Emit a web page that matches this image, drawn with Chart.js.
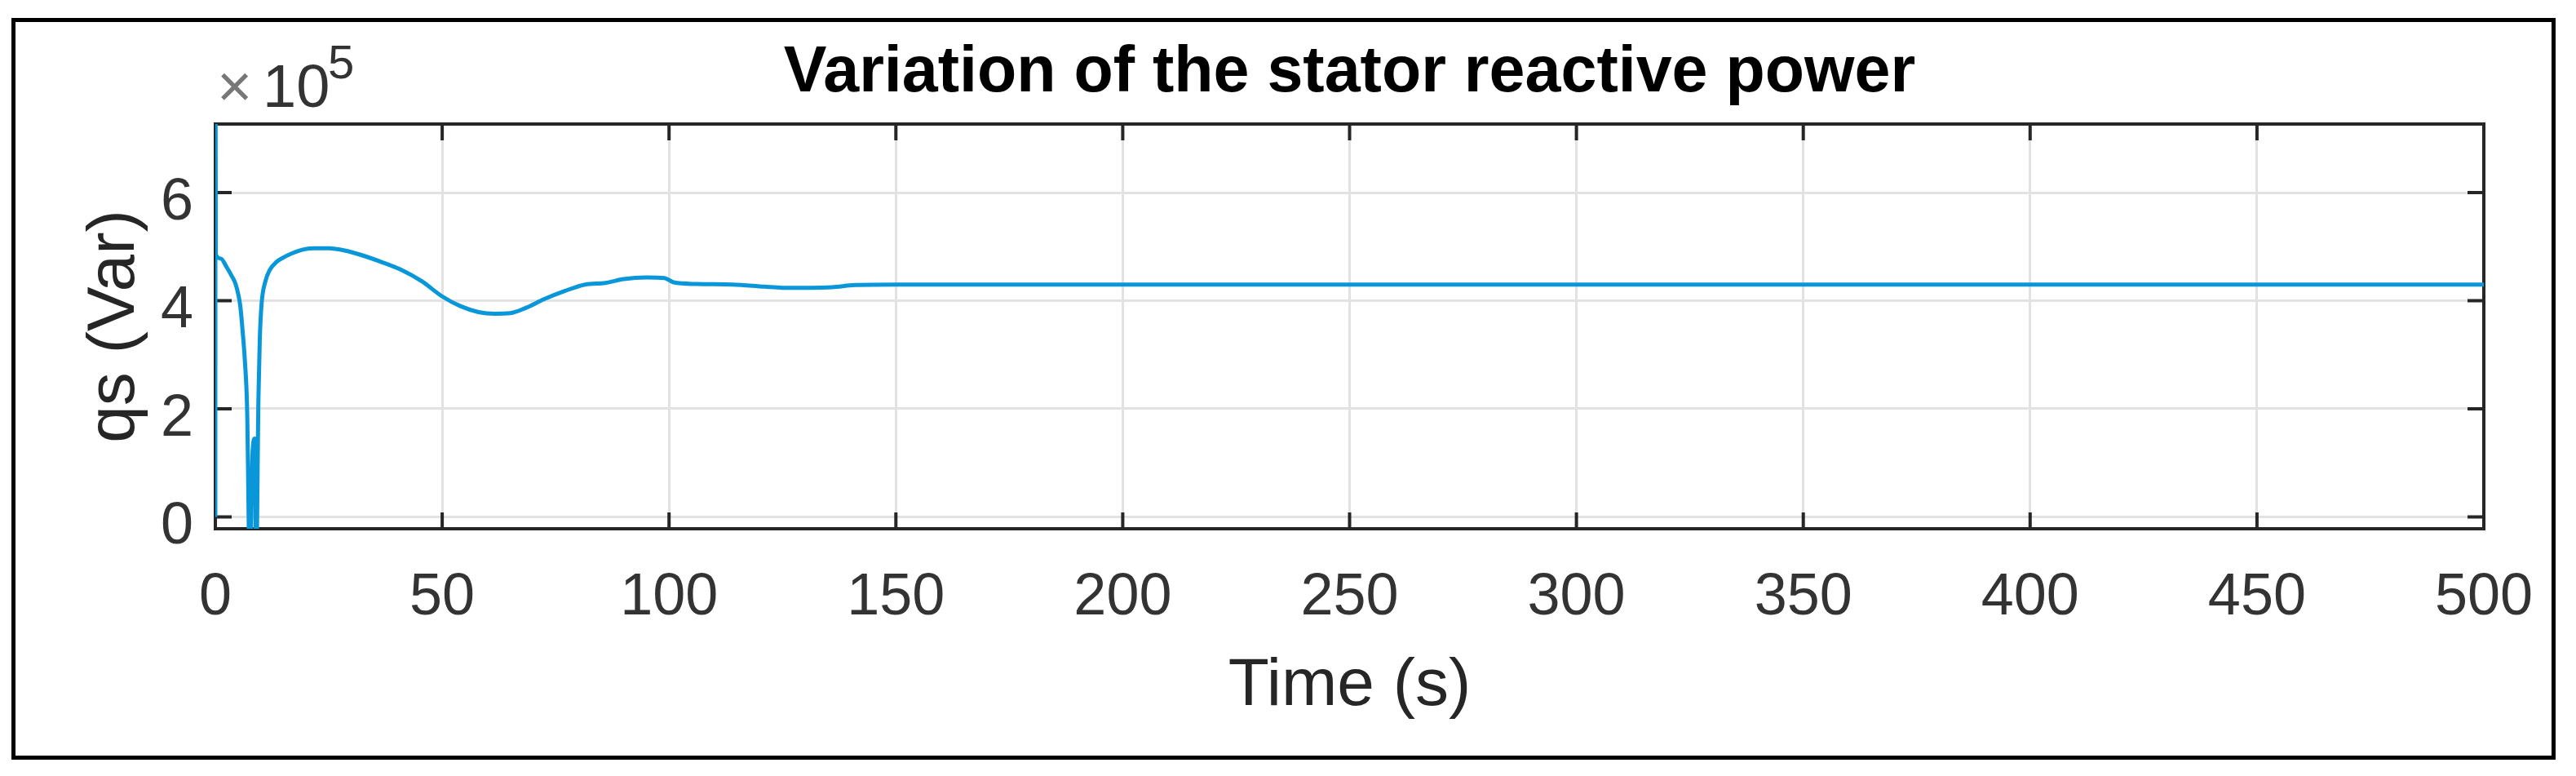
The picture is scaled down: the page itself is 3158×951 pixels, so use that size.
<!DOCTYPE html>
<html>
<head>
<meta charset="utf-8">
<script src="https://cdn.jsdelivr.net/npm/chart.js@4.4.1/dist/chart.umd.min.js"></script>
<style>
html, body { margin:0; padding:0; background:#fff; }
canvas { display:block; }
</style>
</head>
<body>
<canvas id="qs" width="3158" height="951"></canvas>
<script>
// Variation of the stator reactive power
const timeS = [0, 0.02, 0.1, 1.2, 2.5, 3.6, 4.5, 5.1, 5.5, 6.0, 6.5, 7.0, 7.6, 8.2, 8.7, 9.0, 9.5, 9.8, 10.2, 11.0,
  12.0, 13.5, 15.0, 17.0, 19.5, 22.0, 25.0, 28.5, 32.0, 36.5, 41.0, 45.5, 50.0, 54.0, 58.0, 61.5, 65.0, 68.5,
  72.5, 77.0, 81.5, 86.0, 90.0, 95.0, 99.0, 101.0, 106.0, 114.0, 121.0, 125.0, 131.0, 136.0, 141.0, 150.0,
  200, 250, 300, 350, 400, 450, 500];
const qsVar = [0, 9.5e5, 4.86e5, 4.78e5, 4.62e5, 4.46e5, 4.3e5, 4.1e5, 3.9e5, 3.45e5, 2.9e5, 2.0e5, -1.0e5, 1.2e5, 1.45e5, -1.0e5, 2.2e5, 3.3e5, 3.95e5, 4.35e5,
  4.57e5, 4.72e5, 4.8e5, 4.88e5, 4.95e5, 4.97e5, 4.97e5, 4.93e5, 4.85e5, 4.72e5, 4.57e5, 4.36e5, 4.08e5, 3.9e5, 3.79e5, 3.76e5, 3.77e5, 3.87e5,
  4.03e5, 4.18e5, 4.3e5, 4.33e5, 4.4e5, 4.43e5, 4.42e5, 4.34e5, 4.31e5, 4.3e5, 4.26e5, 4.24e5, 4.24e5, 4.25e5, 4.29e5, 4.3e5,
  4.3e5, 4.3e5, 4.3e5, 4.3e5, 4.3e5, 4.3e5, 4.3e5];
const xTicks = [0, 50, 100, 150, 200, 250, 300, 350, 400, 450, 500];
const yTicks = [0, 2e5, 4e5, 6e5];
const yMin = -0.22e5, yMax = 7.27e5;
const yExponent = 5;

const FONT = "'Liberation Sans', Arial, Helvetica, sans-serif";
const AXIS_COLOR = '#262626';

// caja de ejes estilo matlab con ticks hacia dentro
const boxPlugin = {
  id: 'matlabBox',
  beforeDatasetsDraw(chart){
    const {ctx, chartArea:a, scales:{x, y}} = chart;
    ctx.save();
    ctx.strokeStyle = AXIS_COLOR;
    ctx.lineWidth = 4;
    ctx.strokeRect(a.left, a.top, a.right - a.left, a.bottom - a.top);
    const tl = 20;
    ctx.beginPath();
    xTicks.forEach(v => {
      const px = x.getPixelForValue(v);
      ctx.moveTo(px, a.bottom); ctx.lineTo(px, a.bottom - tl);
      ctx.moveTo(px, a.top); ctx.lineTo(px, a.top + tl);
    });
    yTicks.forEach(v => {
      const py = y.getPixelForValue(v);
      ctx.moveTo(a.left, py); ctx.lineTo(a.left + tl, py);
      ctx.moveTo(a.right, py); ctx.lineTo(a.right - tl, py);
    });
    ctx.stroke();
    ctx.restore();
  },
  afterDraw(chart){
    const ctx = chart.ctx;
    ctx.save();
    // marco negro exterior
    ctx.strokeStyle = '#000';
    ctx.lineWidth = 5;
    ctx.strokeRect(16.5, 24.5, 3114, 904);
    // x10^5
    ctx.textAlign = 'left';
    ctx.textBaseline = 'alphabetic';
    ctx.font = '74px ' + FONT;
    ctx.fillStyle = '#777';
    ctx.fillText('\u00d7', 266, 131);
    ctx.fillStyle = '#333';
    ctx.fillText('10', 322, 131);
    ctx.font = '58px ' + FONT;
    ctx.fillText(String(yExponent), 402, 96);
    ctx.restore();
  }
};

const points = timeS.map((t, i) => ({x: t, y: qsVar[i]}));

new Chart(document.getElementById('qs'), {
  type: 'line',
  data: { datasets: [{
    data: points,
    borderColor: '#0a97d9',
    borderWidth: 5,
    pointRadius: 0,
    cubicInterpolationMode: 'monotone',
    fill: false
  }]},
  options: {
    responsive: false,
    animation: false,
    devicePixelRatio: 1,
    layout: { padding: { left: 20, right: 113, top: 20, bottom: 20 } },
    plugins: {
      legend: { display: false },
      tooltip: { enabled: false },
      title: {
        display: true,
        text: 'Variation of the stator reactive power',
        fullSize: false,
        color: '#000',
        font: { family: FONT, size: 79, weight: 'bold', lineHeight: '96px' },
        padding: { top: 22, bottom: 14 }
      }
    },
    scales: {
      x: {
        type: 'linear', min: 0, max: 500,
        afterBuildTicks: s => { s.ticks = xTicks.map(v => ({value: v})); },
        afterFit: s => { s.height = 283; },
        grid: { color: '#e2e2e2', lineWidth: 3, drawTicks: false },
        border: { display: false },
        ticks: { color: '#333', padding: 42, maxRotation: 0, font: { family: FONT, size: 72 } },
        title: { display: true, text: 'Time (s)', color: '#262626',
          font: { family: FONT, size: 82 }, padding: { top: 0, bottom: 40 } }
      },
      y: {
        type: 'linear', min: yMin, max: yMax,
        afterBuildTicks: s => { s.ticks = yTicks.map(v => ({value: v})); },
        afterFit: s => { s.width = 244; },
        grid: { color: '#e2e2e2', lineWidth: 3, drawTicks: false },
        border: { display: false },
        ticks: { color: '#333', padding: 27, labelOffset: 13, font: { family: FONT, size: 72 },
          callback: v => String(v / Math.pow(10, yExponent)) },
        title: { display: true, text: 'qs (Var)', color: '#262626',
          font: { family: FONT, size: 82 }, padding: { top: 72, bottom: 0 } }
      }
    }
  },
  plugins: [boxPlugin]
});
</script>
</body>
</html>
